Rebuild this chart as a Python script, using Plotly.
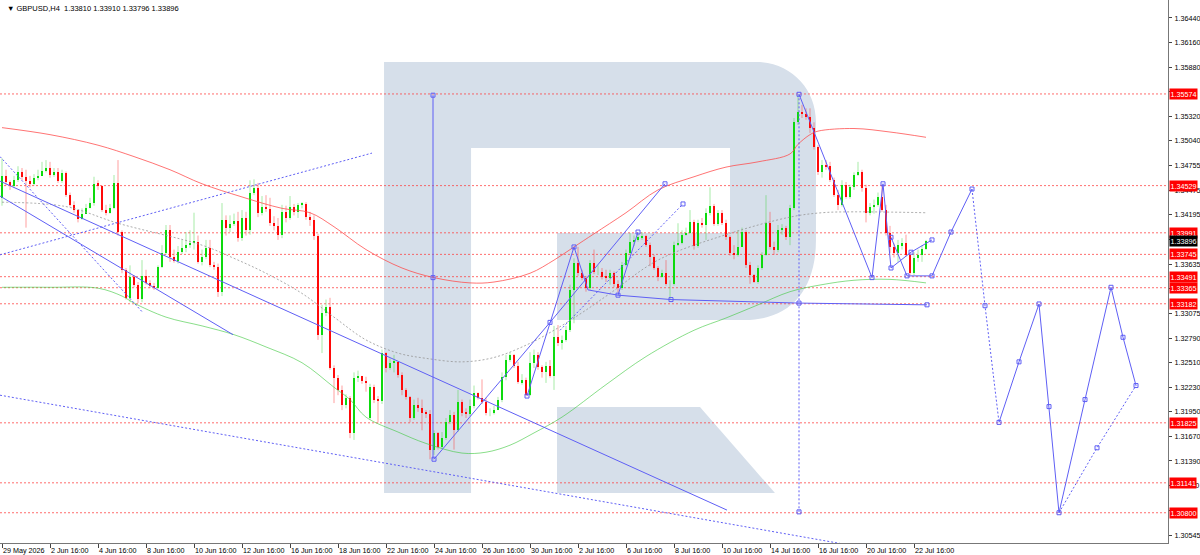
import plotly.graph_objects as go

# ---- GBPUSD H4 candles (bar index 0 = 29 May 2026 16:00) ----
first_open = 1.3439
gap_opens = {92: 1.3188}

closes = [
    1.3464, 1.3457, 1.3453, 1.3459, 1.3468, 1.3463, 1.3458, 1.3455, 1.3462, 1.3464,
    1.3470, 1.3473, 1.3465, 1.3468, 1.3458, 1.3467, 1.3442, 1.3431, 1.3425, 1.3415,
    1.3421, 1.3427, 1.3433, 1.3455, 1.3453, 1.3425, 1.3422, 1.3427, 1.3456, 1.3400,
    1.3357, 1.3325, 1.3349, 1.3340, 1.3324, 1.3350, 1.3342, 1.3339, 1.3336, 1.3360,
    1.3376, 1.3402, 1.3372, 1.3367, 1.3377, 1.3382, 1.3385, 1.3388, 1.3389, 1.3366,
    1.3372, 1.3382, 1.3362, 1.3360, 1.3332, 1.3414, 1.3405, 1.3409, 1.3413, 1.3393,
    1.3416, 1.3402, 1.3445, 1.3450, 1.3422, 1.3429, 1.3426, 1.3410, 1.3407, 1.3397,
    1.3423, 1.3416, 1.3429, 1.3423, 1.3431, 1.3432, 1.3417, 1.3414, 1.3396, 1.3283,
    1.3308, 1.3315, 1.3245, 1.3234, 1.3220, 1.3203, 1.3211, 1.3171, 1.3234, 1.3236,
    1.3230, 1.3229, 1.3223, 1.3209, 1.3207, 1.3262, 1.3245, 1.3251, 1.3252, 1.3237,
    1.3220, 1.3212, 1.3188, 1.3203, 1.3199, 1.3194, 1.3192, 1.3152, 1.3171, 1.3155,
    1.3165, 1.3183, 1.3191, 1.3174, 1.3206, 1.3194, 1.3192, 1.3202, 1.3217, 1.3211,
    1.3206, 1.3194, 1.3194, 1.3197, 1.3209, 1.3235, 1.3254, 1.3260, 1.3247, 1.3229,
    1.3231, 1.3214, 1.3251, 1.3260, 1.3246, 1.3240, 1.3247, 1.3236, 1.3280, 1.3273,
    1.3277, 1.3288, 1.3334, 1.3365, 1.3353, 1.3348, 1.3336, 1.3365, 1.3354, 1.3354,
    1.3349, 1.3348, 1.3353, 1.3341, 1.3336, 1.3362, 1.3376, 1.3389, 1.3391, 1.3394,
    1.3396, 1.3385, 1.3372, 1.3359, 1.3349, 1.3353, 1.3341, 1.3341, 1.3385, 1.3388,
    1.3397, 1.3399, 1.3411, 1.3384, 1.3410, 1.3408, 1.3422, 1.3430, 1.3409, 1.3422,
    1.3410, 1.3394, 1.3376, 1.3374, 1.3383, 1.3400, 1.3362, 1.3351, 1.3343, 1.3359,
    1.3374, 1.3410, 1.3383, 1.3380, 1.3402, 1.3405, 1.3394, 1.3427, 1.3525, 1.3537,
    1.3534, 1.3531, 1.3519, 1.3497, 1.3468, 1.3476, 1.3475, 1.3459, 1.3442, 1.3431,
    1.3454, 1.3440, 1.3451, 1.3465, 1.3468, 1.3450, 1.3422, 1.3429, 1.3431, 1.3440,
    1.3425, 1.3399, 1.3383, 1.3376, 1.3385, 1.3387, 1.3374, 1.3353, 1.3370, 1.3374,
    1.3381, 1.33896,
]

highs = [
    1.3484, 1.3471, 1.3459, 1.3464, 1.3475, 1.3473, 1.3471, 1.3464, 1.3466, 1.3471,
    1.3480, 1.3482, 1.3480, 1.3473, 1.3473, 1.3471, 1.3469, 1.3445, 1.3435, 1.3425,
    1.3427, 1.3432, 1.3439, 1.3463, 1.3459, 1.3453, 1.3431, 1.3432, 1.3465, 1.3482,
    1.3402, 1.3359, 1.3362, 1.3351, 1.3343, 1.3368, 1.3357, 1.3345, 1.3342, 1.3362,
    1.3385, 1.3408, 1.3408, 1.3380, 1.3384, 1.3391, 1.3400, 1.3402, 1.3422, 1.3396,
    1.3380, 1.3391, 1.3391, 1.3366, 1.3364, 1.3433, 1.3419, 1.3419, 1.3421, 1.3423,
    1.3425, 1.3423, 1.3459, 1.3460, 1.3456, 1.3441, 1.3442, 1.3439, 1.3418, 1.3416,
    1.3431, 1.3430, 1.3441, 1.3432, 1.3433, 1.3434, 1.3434, 1.3423, 1.3419, 1.3398,
    1.3317, 1.3323, 1.3325, 1.3248, 1.3237, 1.3225, 1.3215, 1.3213, 1.3240, 1.3242,
    1.3236, 1.3235, 1.3227, 1.3226, 1.3213, 1.3266, 1.3263, 1.3256, 1.3260, 1.3250,
    1.3240, 1.3222, 1.3213, 1.3209, 1.3211, 1.3209, 1.3197, 1.3197, 1.3174, 1.3172,
    1.3172, 1.3188, 1.3197, 1.3195, 1.3220, 1.3209, 1.3199, 1.3209, 1.3225, 1.3217,
    1.3232, 1.3211, 1.3199, 1.3202, 1.3212, 1.3240, 1.3260, 1.3263, 1.3261, 1.3252,
    1.3238, 1.3234, 1.3263, 1.3266, 1.3263, 1.3248, 1.3252, 1.3254, 1.3293, 1.3294,
    1.3282, 1.3293, 1.3340, 1.3370, 1.3383, 1.3357, 1.3350, 1.3368, 1.3380, 1.3362,
    1.3359, 1.3357, 1.3357, 1.3355, 1.3345, 1.3366, 1.3380, 1.3399, 1.3396, 1.3399,
    1.3400, 1.3397, 1.3388, 1.3374, 1.3361, 1.3357, 1.3368, 1.3345, 1.3389, 1.3410,
    1.3402, 1.3405, 1.3425, 1.3414, 1.3414, 1.3416, 1.3427, 1.3451, 1.3432, 1.3425,
    1.3425, 1.3414, 1.3396, 1.3385, 1.3402, 1.3405, 1.3402, 1.3366, 1.3352, 1.3362,
    1.3377, 1.3442, 1.3423, 1.3389, 1.3408, 1.3409, 1.3407, 1.3431, 1.3530, 1.3556,
    1.3545, 1.3541, 1.3541, 1.3525, 1.3499, 1.3482, 1.3482, 1.3480, 1.3462, 1.3448,
    1.3459, 1.3457, 1.3454, 1.3468, 1.3480, 1.3471, 1.3454, 1.3433, 1.3437, 1.3445,
    1.3454, 1.3431, 1.3407, 1.3387, 1.3391, 1.3393, 1.3397, 1.3377, 1.3377, 1.3380,
    1.3385, 1.33910,
]

lows = [
    1.3430, 1.3453, 1.3448, 1.3450, 1.3457, 1.3459, 1.3405, 1.3451, 1.3453, 1.3459,
    1.3465, 1.3468, 1.3462, 1.3463, 1.3456, 1.3456, 1.3440, 1.3429, 1.3422, 1.3411,
    1.3414, 1.3421, 1.3427, 1.3430, 1.3448, 1.3423, 1.3419, 1.3421, 1.3426, 1.3396,
    1.3353, 1.3323, 1.3320, 1.3337, 1.3319, 1.3320, 1.3340, 1.3336, 1.3334, 1.3335,
    1.3359, 1.3374, 1.3366, 1.3365, 1.3364, 1.3375, 1.3377, 1.3382, 1.3380, 1.3364,
    1.3362, 1.3369, 1.3360, 1.3357, 1.3326, 1.3327, 1.3396, 1.3400, 1.3407, 1.3389,
    1.3390, 1.3396, 1.3397, 1.3442, 1.3417, 1.3419, 1.3423, 1.3407, 1.3402, 1.3391,
    1.3393, 1.3411, 1.3414, 1.3419, 1.3416, 1.3427, 1.3414, 1.3407, 1.3391, 1.3277,
    1.3262, 1.3304, 1.3243, 1.3205, 1.3214, 1.3197, 1.3199, 1.3165, 1.3163, 1.3229,
    1.3227, 1.3218, 1.3186, 1.3205, 1.3183, 1.3204, 1.3240, 1.3243, 1.3240, 1.3234,
    1.3214, 1.3209, 1.3183, 1.3186, 1.3195, 1.3174, 1.3188, 1.3141, 1.3146, 1.3152,
    1.3153, 1.3163, 1.3181, 1.3152, 1.3172, 1.3190, 1.3188, 1.3190, 1.3199, 1.3209,
    1.3204, 1.3191, 1.3190, 1.3192, 1.3197, 1.3206, 1.3231, 1.3252, 1.3245, 1.3227,
    1.3226, 1.3213, 1.3213, 1.3245, 1.3243, 1.3234, 1.3228, 1.3234, 1.3220, 1.3270,
    1.3266, 1.3275, 1.3286, 1.3296, 1.3350, 1.3345, 1.3332, 1.3334, 1.3352, 1.3351,
    1.3346, 1.3343, 1.3340, 1.3337, 1.3331, 1.3334, 1.3361, 1.3374, 1.3384, 1.3389,
    1.3391, 1.3383, 1.3361, 1.3357, 1.3344, 1.3348, 1.3339, 1.3323, 1.3339, 1.3384,
    1.3386, 1.3396, 1.3398, 1.3380, 1.3382, 1.3405, 1.3391, 1.3419, 1.3407, 1.3407,
    1.3408, 1.3391, 1.3373, 1.3369, 1.3372, 1.3391, 1.3359, 1.3341, 1.3342, 1.3341,
    1.3357, 1.3373, 1.3380, 1.3374, 1.3377, 1.3397, 1.3391, 1.3385, 1.3425, 1.3522,
    1.3530, 1.3528, 1.3513, 1.3494, 1.3465, 1.3462, 1.3471, 1.3457, 1.3440, 1.3425,
    1.3429, 1.3438, 1.3438, 1.3448, 1.3464, 1.3446, 1.3411, 1.3419, 1.3421, 1.3429,
    1.3423, 1.3396, 1.3376, 1.3371, 1.3366, 1.3380, 1.3372, 1.3351, 1.3351, 1.3366,
    1.3366, 1.33796,
]

# ---- moving averages, sampled (bar index, price) ----
ma_red_x = [0, 12, 24, 33, 42, 50, 60, 70, 77, 83, 91, 100, 108, 117, 123, 132, 138, 143,
            148, 156, 164, 173, 181, 189, 197, 199, 202, 204, 213, 222, 231]
ma_red_y = [1.3519, 1.3511, 1.3499, 1.3486, 1.3471, 1.3455, 1.3440, 1.3427, 1.3422, 1.3406,
            1.3380, 1.3359, 1.3348, 1.3342, 1.3343, 1.3353, 1.3368, 1.3383, 1.3398, 1.3422,
            1.3448, 1.3463, 1.3474, 1.3480, 1.3489, 1.3500, 1.3511, 1.3515, 1.3518, 1.3514,
            1.3508]
ma_green_x = [0, 12, 24, 30, 33, 41, 50, 58, 66, 75, 83, 87, 91, 99, 106, 115, 121, 127,
              133, 140, 151, 161, 173, 181, 189, 197, 205, 213, 222, 231]
ma_green_y = [1.3337, 1.3337, 1.3336, 1.3327, 1.3319, 1.3303, 1.3293, 1.3283, 1.3269, 1.3251,
              1.3223, 1.3209, 1.3189, 1.3172, 1.3159, 1.3148, 1.3149, 1.3157, 1.3171, 1.3189,
              1.3226, 1.3258, 1.3288, 1.3302, 1.3317, 1.3332, 1.3340, 1.3345, 1.3346, 1.3342]
ma_grey_x = [0, 16, 29, 50, 58, 66, 75, 83, 91, 99, 106, 115, 123, 131, 138, 145, 152, 164,
             181, 197, 205, 213, 231]
ma_grey_y = [1.3434, 1.3429, 1.3410, 1.3385, 1.3370, 1.3353, 1.3330, 1.3303, 1.3277, 1.3262,
             1.3256, 1.3252, 1.3257, 1.3271, 1.3288, 1.3308, 1.3330, 1.3368, 1.3397, 1.3417,
             1.3422, 1.3423, 1.3422]

# ---- drawn objects (bar index, price) ----
solid_lines = [
    ([-0.5, 181.25], [1.3458, 1.3083]),
    ([-0.5, 57.75], [1.3441, 1.3283]),
    ([107.75, 107.75], [1.3556, 1.3141]),
    ([108, 137, 165.75], [1.3141, 1.3297, 1.3455]),
    ([131.25, 143, 146.5, 154, 167.25, 199.25, 231.25],
     [1.3213, 1.3383, 1.3334, 1.3328, 1.3323, 1.3319, 1.3317]),
    ([154, 159], [1.3328, 1.3400]),
    ([199.25, 217.5, 220.25, 222.25], [1.3557, 1.3348, 1.3455, 1.3359]),
    ([222.25, 226.25, 232.5], [1.3394, 1.3350, 1.3350]),
    ([222.25, 227.25, 232.5], [1.3359, 1.3377, 1.3391]),
    ([232.5, 237.25, 242.5], [1.3350, 1.3400, 1.3449]),
    ([249.25, 254.25, 259.25, 261.75, 264.25, 270.75, 277.25, 280.25, 283.5],
     [1.3183, 1.3252, 1.3318, 1.3201, 1.3080, 1.3209, 1.3337, 1.3280, 1.3225]),
]
dotted_lines = [
    ([-0.5, 92.5], [1.3374, 1.3490]),
    ([-0.5, 35.25], [1.3486, 1.3308]),
    ([-0.5, 212], [1.3214, 1.3043]),
    ([199.25, 199.25], [1.3557, 1.3081]),
    ([139.5, 170.25], [1.3288, 1.3432]),
    ([242.5, 245.75, 249.25], [1.3449, 1.3316, 1.3183]),
    ([264.25, 273.75, 283.5], [1.3080, 1.3154, 1.3225]),
]
anchor_x = [107.75, 107.75, 108, 131.25, 137, 143, 154, 159, 165.75, 167.25, 199.25, 199.25,
            199.25, 217.5, 220.25, 222.25, 222.25, 226.25, 227.25, 232.5, 232.5, 231.25,
            237.25, 242.5, 245.75, 249.25, 254.25, 259.25, 261.75, 264.25, 270.75, 273.75,
            277.25, 280.25, 283.5, 170.25]
anchor_y = [1.3556, 1.3348, 1.3141, 1.3213, 1.3297, 1.3383, 1.3328, 1.3400, 1.3455, 1.3323,
            1.3557, 1.3319, 1.3081, 1.3348, 1.3455, 1.3359, 1.3394, 1.3350, 1.3377, 1.3350,
            1.3391, 1.3317, 1.3400, 1.3449, 1.3316, 1.3183, 1.3252, 1.3318, 1.3201, 1.3080,
            1.3209, 1.3154, 1.3337, 1.3280, 1.3225, 1.3432]

# ---- levels and axis text ----
levels = [1.35574, 1.34529, 1.33991, 1.33745, 1.33491, 1.33365, 1.33182, 1.31825, 1.31141, 1.30800]
price_ticks = [1.36440, 1.36160, 1.35880, 1.35600, 1.35320, 1.35040, 1.34755, 1.34475, 1.34195,
               1.33915, 1.33635, 1.33355, 1.33075, 1.32790, 1.32510, 1.32230, 1.31950, 1.31670,
               1.31390, 1.31110, 1.30825, 1.30545]
# labels hidden under the level boxes in the reference
hidden_ticks = [1.35600, 1.33915, 1.33355, 1.30825]
time_labels = ["29 May 2026", "2 Jun 16:00", "4 Jun 16:00", "8 Jun 16:00", "10 Jun 16:00",
               "12 Jun 16:00", "16 Jun 16:00", "18 Jun 16:00", "22 Jun 16:00", "24 Jun 16:00",
               "26 Jun 16:00", "30 Jun 16:00", "2 Jul 16:00", "6 Jul 16:00", "8 Jul 16:00",
               "10 Jul 16:00", "14 Jul 16:00", "16 Jul 16:00", "20 Jul 16:00", "22 Jul 16:00"]
last_price = 1.33896

FONT = "Liberation Sans"
BLUE = "rgb(95,95,245)"
W, H = 1168, 543  # plot area in px

n = len(closes)
idx = list(range(n))
opens = [first_open] + closes[:-1]
for k, v in gap_opens.items():
    opens[k] = v

fig = go.Figure()

# wicks
for up, col in [(True, "rgba(60,210,60,0.45)"), (False, "rgba(255,40,40,0.45)")]:
    wx, wy = [], []
    for i in idx:
        if (closes[i] >= opens[i]) == up:
            wx += [i, i, None]
            wy += [lows[i], highs[i], None]
    fig.add_trace(go.Scatter(x=wx, y=wy, mode="lines", line=dict(color=col, width=1)))

# bodies
body_colors = ["#00dd00" if c >= o else "#ff0000" for o, c in zip(opens, closes)]
fig.add_trace(go.Bar(x=idx, y=[c - o for o, c in zip(opens, closes)], base=opens,
                     width=0.62, marker=dict(color=body_colors, line=dict(width=0))))

# moving averages
fig.add_trace(go.Scatter(x=ma_red_x, y=ma_red_y, mode="lines", line_shape="spline",
                         line=dict(color="rgba(255,70,70,0.75)", width=1)))
fig.add_trace(go.Scatter(x=ma_green_x, y=ma_green_y, mode="lines", line_shape="spline",
                         line=dict(color="rgba(60,200,60,0.6)", width=1)))
fig.add_trace(go.Scatter(x=ma_grey_x, y=ma_grey_y, mode="lines", line_shape="spline",
                         line=dict(color="rgba(150,150,150,0.8)", width=1, dash="2px,2px")))

# trend lines and forecast
for xs, ys in solid_lines:
    fig.add_trace(go.Scatter(x=xs, y=ys, mode="lines", line=dict(color=BLUE, width=1)))
for xs, ys in dotted_lines:
    fig.add_trace(go.Scatter(x=xs, y=ys, mode="lines",
                             line=dict(color=BLUE, width=1, dash="2px,2px")))
fig.add_trace(go.Scatter(x=anchor_x, y=anchor_y, mode="markers",
                         marker=dict(symbol="square-open", size=4, color=BLUE,
                                     line=dict(width=1, color=BLUE))))


def pp(pts):
    return " ".join(f"{x / W:.4f},{1 - y / H:.4f}" for x, y in pts)


# watermark logo
shapes = [
    dict(type="path", xref="paper", yref="paper", layer="below", line_width=0,
         fillcolor="#d6dfea",
         path=("M " + pp([(384, 493)]) + " L " + pp([(384, 62)]) + " L " + pp([(756, 62)])
               + " C " + pp([(790, 62), (816, 88), (816, 122)])
               + " L " + pp([(816, 240)])
               + " C " + pp([(816, 290), (790, 320), (745, 320)])
               + " L " + pp([(557, 320)]) + " L " + pp([(557, 233)]) + " L " + pp([(730, 233)])
               + " L " + pp([(730, 148)]) + " L " + pp([(471, 148)]) + " L " + pp([(471, 493)])
               + " Z")),
    dict(type="path", xref="paper", yref="paper", layer="below", line_width=0,
         fillcolor="#d6dfea",
         path="M " + " L ".join(pp([p]) for p in [(557, 407), (700, 407), (775, 493), (557, 493)]) + " Z"),
]
for lv in levels:
    shapes.append(dict(type="line", xref="paper", x0=0, x1=1, yref="y", y0=lv, y1=lv,
                       layer="below", line=dict(color="rgba(255,60,60,0.75)", width=1, dash="2px,2px")))

LBL = 7.2
annotations = []
for lv in levels:
    annotations.append(dict(xref="paper", x=1, xanchor="left", xshift=1, yref="y", y=lv,
                            text=f"{lv:.5f}", showarrow=False, bgcolor="#ff0000",
                            font=dict(family=FONT, size=LBL, color="white"), borderpad=0.5))
annotations.append(dict(xref="paper", x=1, xanchor="left", xshift=1, yref="y", y=last_price,
                        text=f"{last_price:.5f}", showarrow=False, bgcolor="#000000",
                        font=dict(family=FONT, size=LBL, color="white"), borderpad=0.5))
annotations.append(dict(xref="paper", yref="paper", x=0.004, y=0.997, xanchor="left",
                        yanchor="top", showarrow=False,
                        text="▼ GBPUSD,H4  1.33810 1.33910 1.33796 1.33896",
                        font=dict(family=FONT, size=7.5, color="black")))

fig.update_layout(
    width=1200, height=555,
    margin=dict(l=0, r=32, t=0, b=12, pad=0, autoexpand=False),
    paper_bgcolor="white", plot_bgcolor="white",
    showlegend=False, hovermode=False, bargap=0,
    shapes=shapes, annotations=annotations,
    font=dict(family=FONT, size=LBL, color="black"),
)
fig.update_xaxes(range=[-0.5, 291.5], tickvals=list(range(0, 229, 12)), ticktext=time_labels,
                 ticks="outside", ticklen=4, tickcolor="#444", ticklabelposition="outside right",
                 tickangle=0, automargin=False,
                 showgrid=False, zeroline=False, showline=True, linecolor="#777", linewidth=1,
                 tickfont=dict(family=FONT, size=LBL))
fig.update_yaxes(range=[1.30455, 1.36645], side="right", tickvals=price_ticks,
                 ticktext=["" if t in hidden_ticks else f"{t:.5f}" for t in price_ticks],
                 ticks="outside", ticklen=3, tickcolor="#444",
                 automargin=False, ticklabelstandoff=1,
                 showgrid=False, zeroline=False, showline=True, mirror=True,
                 linecolor="#777", linewidth=1, tickfont=dict(family=FONT, size=LBL))

fig.write_html("out.html", config={"displayModeBar": False},
               post_script="document.body.style.margin='0px';"
                           "document.body.style.overflow='hidden';")
